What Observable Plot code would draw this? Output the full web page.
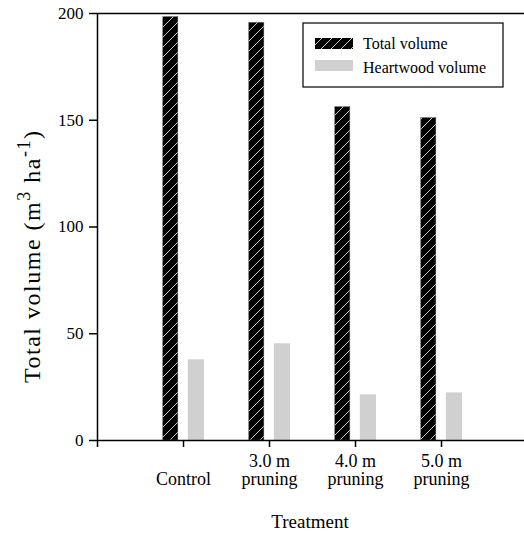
<!DOCTYPE html>
<html><head><meta charset="utf-8">
<script src="https://cdn.jsdelivr.net/npm/d3@7"></script>
<script src="https://cdn.jsdelivr.net/npm/@observablehq/plot@0.6"></script>
<style>body{margin:0;background:#fff;}</style>
</head><body><div id="chart"></div>
<script>
const treatments = ["Control", "3.0 m\npruning", "4.0 m\npruning", "5.0 m\npruning"];
const totalVolume = [198.3, 195.6, 156.1, 151.0];
const heartwoodVolume = [37.8, 45.3, 21.4, 22.3];
const seriesNames = ["Total volume", "Heartwood volume"];
const yTicks = [0, 50, 100, 150, 200];

const rows = treatments.map((t, i) => ({pos: i + 1, total: totalVolume[i], heart: heartwoodVolume[i]}));
const font = "'Liberation Serif', 'Times New Roman', serif";

const plot = Plot.plot({
  width: 524, height: 533,
  marginLeft: 97, marginTop: 13, marginBottom: 93, marginRight: 0,
  style: {fontFamily: font, background: "#fff", color: "#000", overflow: "visible"},
  x: {domain: [0, 5], range: [97, 527]},
  y: {domain: [0, 200], range: [440, 13]},
  marks: [
    Plot.rectY(rows, {x1: d => d.pos - 0.235, x2: d => d.pos - 0.06, y: "total", fill: "url(#hatch)", stroke: "#555", strokeWidth: 0.5}),
    Plot.rectY(rows, {x1: d => d.pos + 0.056, x2: d => d.pos + 0.244, y: "heart", fill: "#d0d0d0"}),
    Plot.ruleY([0], {strokeWidth: 1.5}),
    Plot.ruleY([200], {strokeWidth: 1.5}),
    Plot.ruleX([0], {strokeWidth: 1.5}),
    Plot.axisY({ticks: yTicks, tickSize: 8, tickPadding: 6, fontSize: 17, fontFamily: font, label: null, strokeWidth: 1.5}),
    Plot.axisX({
      ticks: [0, 1, 2, 3, 4],
      tickFormat: i => i === 0 ? "" : (treatments[i - 1].includes("\n") ? treatments[i - 1] : "\u00a0\n" + treatments[i - 1]),
      tickSize: 7, tickPadding: 6, fontSize: 18, fontFamily: font, lineHeight: 1.02, label: null, strokeWidth: 1.5
    })
  ]
});

const svg = d3.select(plot);
svg.style("font-family", font);
svg.selectAll("text").style("font-family", font);
const defs = svg.insert("defs", ":first-child");
const pat = defs.append("pattern").attr("id", "hatch").attr("patternUnits", "userSpaceOnUse")
  .attr("width", 10).attr("height", 10);
pat.append("rect").attr("width", 10).attr("height", 10).attr("fill", "#000");
pat.append("path").attr("d", "M-1,11 L11,-1 M-6,6 L6,-6 M4,16 L16,4")
  .attr("stroke", "#c8c8c8").attr("stroke-width", 1);

// Y axis title
const yl = svg.append("text")
  .attr("transform", "translate(40,257) rotate(-90)")
  .attr("text-anchor", "middle")
  .attr("textLength", 252).attr("lengthAdjust", "spacing")
  .attr("fill", "#000")
  .style("font-family", font).style("font-size", "24px");
yl.append("tspan").text("Total volume (m");
yl.append("tspan").attr("dy", -10).style("font-size", "18px").text("3");
yl.append("tspan").attr("dy", 10).text(" ha");
yl.append("tspan").attr("dy", -10).style("font-size", "18px").text("-1");
yl.append("tspan").attr("dy", 10).text(")");

// X axis title
svg.append("text").attr("x", 310).attr("y", 528).attr("text-anchor", "middle")
  .attr("fill", "#000").style("font-family", font).style("font-size", "19px").text("Treatment");

// Legend
const lg = svg.append("g");
lg.append("rect").attr("x", 303).attr("y", 23).attr("width", 200).attr("height", 64)
  .attr("fill", "#fff").attr("stroke", "#000").attr("stroke-width", 1.2);
const swatchFills = ["url(#hatch)", "#d0d0d0"];
seriesNames.forEach((name, i) => {
  lg.append("rect").attr("x", 315).attr("y", 38 + i * 22).attr("width", 38).attr("height", 11)
    .attr("fill", swatchFills[i]);
  lg.append("text").attr("x", 363).attr("y", 49 + i * 23.5).attr("fill", "#000")
    .attr("text-anchor", "start")
    .style("font-family", font).style("font-size", "16px").text(name);
});

document.getElementById("chart").appendChild(plot);
</script>
</body></html>
